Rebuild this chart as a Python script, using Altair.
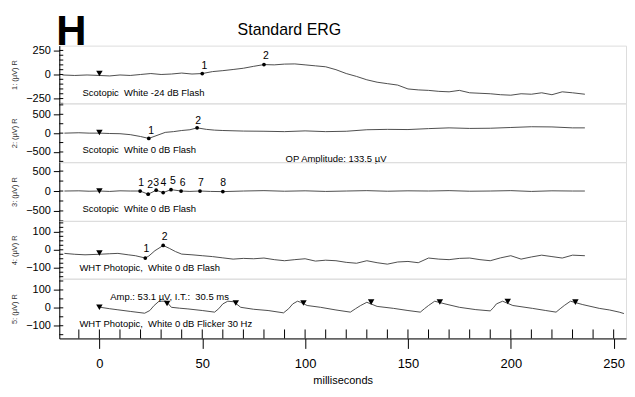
import altair as alt
import pandas as pd

FONT = "Liberation Sans, Arial, sans-serif"
T_DOMAIN = [-19.5, 256]
X_MAJOR = [0, 50, 100, 150, 200, 250]
X_MINOR = [-10, 0, 10, 20, 30, 40, 50, 60, 70, 80, 90, 100, 110, 120, 130, 140, 150,
           160, 170, 180, 190, 200, 210, 220, 230, 240, 250]
SP = "\u00a0 "  # doubled space as in the original labels

# ---- Panel 1: Scotopic White -24 dB Flash
p1_t = [-18, -12, -6, 0, 5, 10, 15, 20, 25, 30, 35, 40, 45, 50, 55, 60, 65, 70, 75, 80,
        85, 90, 95, 100, 105, 110, 115, 120, 125, 130, 135, 140, 145, 150, 155, 160, 165,
        170, 175, 180, 185, 190, 195, 200, 205, 210, 215, 220, 225, 230, 236]
p1_v = [-5, -10, -5, -10, -15, -5, -10, 0, 10, 0, 5, 15, 5, 10, 30, 40, 52, 65, 85, 103,
        100, 108, 110, 100, 90, 80, 50, 10, -20, -55, -80, -95, -110, -150, -160, -165, -175,
        -180, -165, -190, -195, -200, -210, -215, -200, -205, -190, -210, -180, -190, -205]
p1_marks_t = [0]
p1_marks_v = [10]
p1_dots_t = [50, 80]
p1_dots_v = [10, 103]
p1_lab_t = [51, 81]
p1_lab_v = [93, 196]
p1_lab = ["1", "2"]

# ---- Panel 2: Scotopic White 0 dB Flash
p2_t = [-17, -10, -5, 0, 5, 10, 15, 20, 24, 28, 32, 36, 40, 44, 47.5, 52, 56, 60, 70, 80,
        90, 100, 110, 120, 130, 140, 150, 160, 170, 180, 190, 200, 210, 220, 230, 236]
p2_v = [0, 10, 0, 0, -10, -15, -40, -90, -140, -60, 20, 40, 70, 90, 140, 100, 80, 70, 55, 50,
        40, 60, 40, 50, 90, 100, 95, 120, 140, 125, 130, 150, 170, 165, 140, 140]
p2_marks_t = [0]
p2_marks_v = [15]
p2_dots_t = [24, 47.5]
p2_dots_v = [-140, 140]
p2_lab_t = [25.2, 48]
p2_lab_v = [60, 330]
p2_lab = ["1", "2"]

# ---- Panel 3: Scotopic White 0 dB Flash (oscillatory potentials)
p3_t = [-17, -10, -5, 0, 5, 10, 15, 19.8, 23.7, 27.6, 31, 34.8, 39.7, 44, 48.9, 54, 60, 70,
        80, 90, 100, 110, 120, 130, 140, 150, 160, 170, 180, 190, 200, 210, 220, 230, 236]
p3_v = [0, 5, -5, 0, -10, 5, 0, 0, -80, 20, -40, 35, 0, -10, 0, -10, -15, 0, 10, -5, 5, -10,
        0, 10, -5, 5, 0, 10, -5, 0, 10, -10, 5, 0, 0]
p3_marks_t = [0]
p3_marks_v = [0]
p3_dots_t = [19.8, 23.7, 27.6, 31, 34.8, 39.7, 48.9, 60]
p3_dots_v = [0, -80, 20, -40, 35, 0, 0, -15]
p3_lab_t = [20.3, 24.7, 27.6, 31.1, 35.7, 40.5, 49.4, 60.2]
p3_lab_v = [200, 160, 200, 200, 250, 200, 200, 200]
p3_lab = ["1", "2", "3", "4", "5", "6", "7", "8"]

# ---- Panel 4: WHT Photopic, White 0 dB Flash
p4_t = [-17, -12, -7, 0, 5, 9, 14, 17.5, 22.3, 24, 27, 31, 34, 37, 40, 45, 50, 55, 60, 65,
        70, 75, 80, 85, 90, 95, 100, 105, 110, 115, 120, 125, 130, 135, 140, 145, 150, 155,
        160, 165, 170, 175, 180, 185, 190, 195, 200, 205, 210, 215, 220, 225, 230, 236]
p4_v = [-20, -25, -28, -25, -22, -20, -28, -33, -46, -35, -5, 24, 8, -10, -24, -28, -33, -38,
        -45, -52, -48, -50, -46, -55, -61, -55, -50, -63, -58, -61, -70, -75, -61, -72, -80,
        -68, -65, -72, -46, -52, -55, -48, -46, -55, -61, -45, -33, -52, -40, -30, -38, -46,
        -30, -33]
p4_marks_t = [0]
p4_marks_v = [-18]
p4_dots_t = [22.3, 31]
p4_dots_v = [-46, 24]
p4_lab_t = [22.8, 31.7]
p4_lab_v = [5, 72]
p4_lab = ["1", "2"]

# ---- Panel 5: WHT Photopic, White 0 dB Flicker 30 Hz
p5_t = [0.5, 5, 9, 15, 22, 24.5, 26.6, 29, 32.4, 35, 39, 43, 50, 56, 58, 60, 62.4, 65.3, 68.7,
        75, 82, 89.5, 92, 94, 96.3, 97.8, 101, 107.5, 115, 122, 124.5, 127, 130, 135, 143, 150,
        156, 158, 160, 163, 168, 175, 183, 190, 191.5, 193, 196, 201, 210.5, 217, 222, 224,
        226, 229, 235, 243, 248, 252.7, 255]
p5_v = [3, -5, -11, -20, -30, -15, 13, 37, 37, 3, -2, -6, -15, -24, -5, 22, 37, 34, 3, -8,
        -15, -28, -5, 22, 37, 31, 13, 3, -12, -24, -5, 13, 31, 8, -3, -15, -24, -5, 13, 37,
        22, 3, -10, -17, 0, 22, 37, 13, -3, -15, -24, -5, 13, 37, 18, -3, -12, -24, -32]
p5_marks_t = [0, 32.9, 66.3, 99.2, 132.1, 165.5, 198.5, 231.4]
p5_marks_v = [3, 24, 27, 27, 32, 33, 35, 32]

PANELS = [
    dict(t=p1_t, v=p1_v, mt=p1_marks_t, mv=p1_marks_v, dt=p1_dots_t, dv=p1_dots_v,
         lt=p1_lab_t, lv=p1_lab_v, lab=p1_lab, dom=[-300, 300], major=[-250, 0, 250],
         minor=[-300, -250, -200, -150, -100, -50, 0, 50, 100, 150, 200, 250],
         h=58, title="1: (µV) R",
         texts=[(-8.2, -191, "Scotopic" + SP + "White -24 dB Flash")]),
    dict(t=p2_t, v=p2_v, mt=p2_marks_t, mv=p2_marks_v, dt=p2_dots_t, dv=p2_dots_v,
         lt=p2_lab_t, lv=p2_lab_v, lab=p2_lab, dom=[-770, 790], major=[-500, 0, 500],
         minor=[-750, -500, -250, 0, 250, 500, 750],
         h=59, title="2: (µV) R",
         texts=[(-8.2, -460, "Scotopic" + SP + "White 0 dB Flash"),
                (90.5, -700, "OP Amplitude: 133.5 µV")]),
    dict(t=p3_t, v=p3_v, mt=p3_marks_t, mv=p3_marks_v, dt=p3_dots_t, dv=p3_dots_v,
         lt=p3_lab_t, lv=p3_lab_v, lab=p3_lab, dom=[-750, 725], major=[-500, 0, 500],
         minor=[-750, -500, -250, 0, 250, 500],
         h=59, title="3: (µV) R",
         texts=[(-8.2, -462, "Scotopic" + SP + "White 0 dB Flash")]),
    dict(t=p4_t, v=p4_v, mt=p4_marks_t, mv=p4_marks_v, dt=p4_dots_t, dv=p4_dots_v,
         lt=p4_lab_t, lv=p4_lab_v, lab=p4_lab, dom=[-161, 161], major=[-100, 0, 100],
         minor=[-150, -125, -100, -75, -50, -25, 0, 25, 50, 75, 100, 125, 150],
         h=58, title="4: (µV) R",
         texts=[(-9.7, -103, "WHT Photopic," + SP + "White 0 dB Flash")]),
    dict(t=p5_t, v=p5_v, mt=p5_marks_t, mv=p5_marks_v, dt=[], dv=[],
         lt=[], lv=[], lab=[], dom=[-171, 163], major=[-100, 0, 100],
         minor=[-150, -100, -50, 0, 50, 100, 150],
         h=60, title="5: (µV) R",
         texts=[(5.3, 60, "Amp.: 53.1 µV, I.T.:" + SP + "30.5 ms"),
                (-9.7, -90, "WHT Photopic," + SP + "White 0 dB Flicker 30 Hz")]),
]

W = 569


def make_panel(idx, p, last):
    h = p["h"]
    if last:
        xaxis = alt.Axis(values=X_MAJOR, tickSize=10, tickColor="black", domainColor="black",
                         labelFont=FONT, labelFontSize=13, labelColor="black",
                         labelPadding=9, grid=False, title="milliseconds",
                         titleFont=FONT, titleFontSize=11, titleFontWeight="normal",
                         titleColor="black", titlePadding=4)
    else:
        xaxis = None
    xenc = alt.X("t:Q", scale=alt.Scale(domain=T_DOMAIN, nice=False, zero=False), axis=xaxis)
    yenc = alt.Y("v:Q", scale=alt.Scale(domain=p["dom"], nice=False, zero=False),
                 axis=alt.Axis(values=p["major"], tickSize=6, tickColor="black",
                               domainColor="black", labelFont=FONT, labelFontSize=11,
                               labelColor="black", labelPadding=3, grid=False,
                               title=p["title"], titleFont=FONT, titleFontSize=7.5,
                               titleFontWeight="normal", titleColor="#333",
                               titleX=-41, titleY=h / 2))

    line_df = pd.DataFrame({"t": p["t"], "v": p["v"]})
    layers = []
    tick_df = pd.DataFrame({"v": sorted(set(p["minor"]) | set(p["major"]))})
    layers.append(alt.Chart(tick_df).mark_rule(color="black", strokeWidth=1).encode(
        y=yenc, x=alt.value(0), x2=alt.value(4)))
    layers.append(alt.Chart(line_df).mark_line(color="#3a3a3a", strokeWidth=0.9).encode(
        x=xenc, y=yenc))
    mk_df = pd.DataFrame({"t": p["mt"], "v": p["mv"]})
    layers.append(alt.Chart(mk_df).mark_point(shape="triangle-down", filled=True,
                                              color="black", size=42, opacity=1).encode(
        x=xenc, y=yenc))
    if p["dt"]:
        dot_df = pd.DataFrame({"t": p["dt"], "v": p["dv"]})
        layers.append(alt.Chart(dot_df).mark_circle(color="black", size=14, opacity=1).encode(
            x=xenc, y=yenc))
        lab_df = pd.DataFrame({"t": p["lt"], "v": p["lv"], "lab": p["lab"]})
        layers.append(alt.Chart(lab_df).mark_text(font=FONT, fontSize=10.5, color="black",
                                                  baseline="middle").encode(
            x=xenc, y=yenc, text="lab:N"))
    txt_df = pd.DataFrame({"t": [a for a, b, c in p["texts"]],
                           "v": [b for a, b, c in p["texts"]],
                           "s": [c for a, b, c in p["texts"]]})
    layers.append(alt.Chart(txt_df).mark_text(font=FONT, fontSize=9.5, color="black",
                                              align="left", baseline="middle").encode(
        x=xenc, y=yenc, text="s:N"))
    if last:
        xt_df = pd.DataFrame({"t": X_MINOR})
        layers.append(alt.Chart(xt_df).mark_rule(color="black", strokeWidth=1).encode(
            x=xenc, y=alt.value(h - 9), y2=alt.value(h)))
    if idx == 0:
        layers.append(alt.Chart(pd.DataFrame({"a": [0]})).mark_text(
            text="H", font=FONT, fontSize=42, fontWeight="bold",
            color="black", align="left", baseline="alphabetic").encode(
            x=alt.value(-3), y=alt.value(-1)))
        layers.append(alt.Chart(pd.DataFrame({"a": [0]})).mark_text(
            text="Standard ERG", font=FONT, fontSize=16, color="black",
            align="center", baseline="alphabetic").encode(
            x=alt.value(231), y=alt.value(-11)))
    return alt.layer(*layers).properties(width=W, height=h)


charts = [make_panel(i, p, i == len(PANELS) - 1) for i, p in enumerate(PANELS)]

chart = alt.vconcat(*charts, spacing=0, bounds="flush").resolve_scale(
    x="independent", y="independent").properties(
    padding={"left": 1.5, "top": 1, "right": 0, "bottom": 0}
).configure_view(stroke="#555", strokeWidth=1.6).configure(background="white")

chart.save("out.html", embed_options={"renderer": "svg", "actions": False})
